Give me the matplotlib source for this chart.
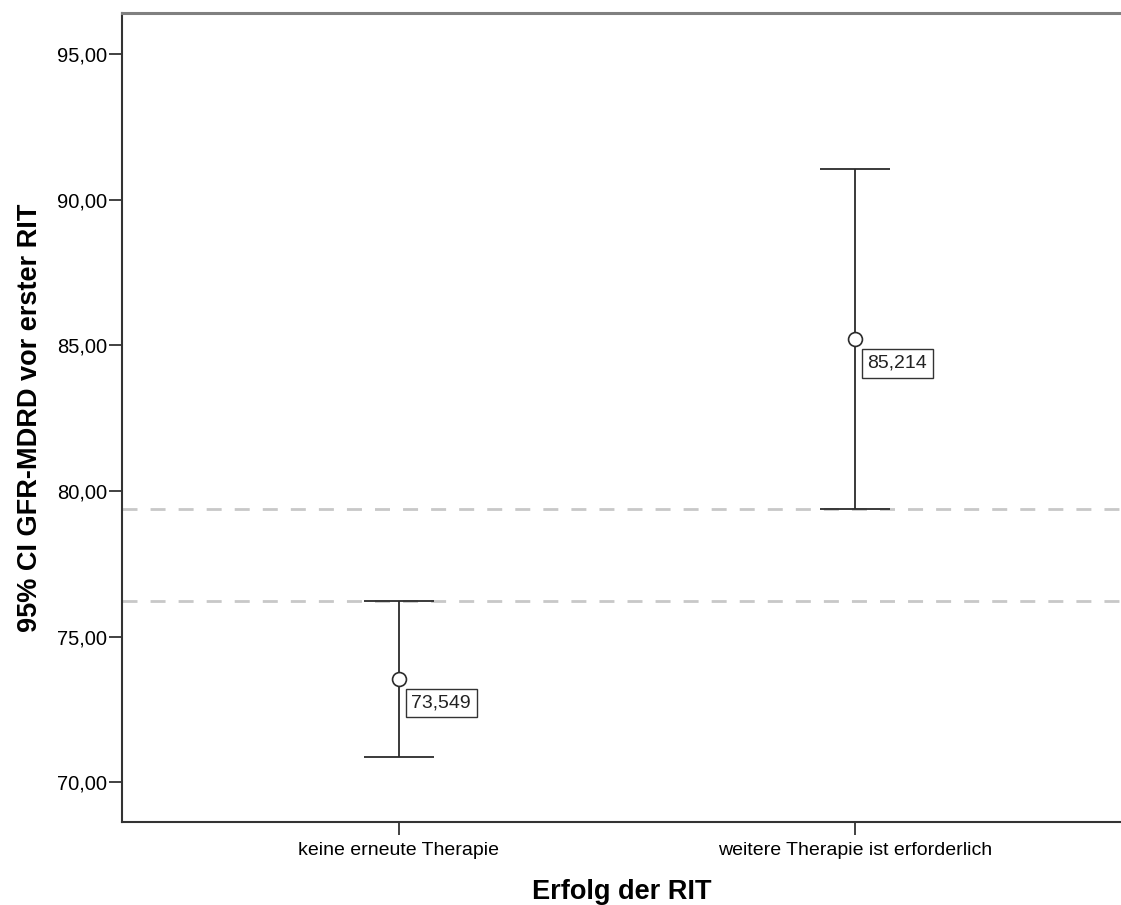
import matplotlib
matplotlib.use("Agg")
import matplotlib.pyplot as plt

plt.rcParams["font.family"] = ["Liberation Sans", "DejaVu Sans"]

categories = ["keine erneute Therapie", "weitere Therapie ist erforderlich"]
means = [73.549, 85.214]
ci_low = [70.86, 79.37]
ci_high = [76.22, 91.05]
mean_labels = ["73,549", "85,214"]
ref_lines = [79.37, 76.22]
y_ticks = [70, 75, 80, 85, 90, 95]
y_tick_labels = ["70,00", "75,00", "80,00", "85,00", "90,00", "95,00"]

fig = plt.figure(figsize=(11.21, 9.05), dpi=100)
ax = fig.add_axes([0.1088, 0.0917, 0.8912, 0.8939])

x = list(range(len(categories)))
for y in ref_lines:
    ax.axhline(y, color="#c8c8c8", linewidth=2, linestyle=(0, (5.4, 4.7)), zorder=1)

lower = [m - lo for m, lo in zip(means, ci_low)]
upper = [hi - m for m, hi in zip(means, ci_high)]
ax.errorbar(x, means, yerr=[lower, upper], fmt="none", ecolor="#2b2b2b",
            elinewidth=1.3, capsize=25, capthick=1.3, zorder=2)
ax.plot(x, means, "o", markersize=10, markerfacecolor="white",
        markeredgecolor="#2b2b2b", markeredgewidth=1.2, zorder=3)

for xi, m, lab in zip(x, means, mean_labels):
    ax.annotate(lab, (xi, m), xytext=(9, -17.5), textcoords="offset points",
                fontsize=14, ha="left", va="center", color="#222222",
                bbox=dict(boxstyle="square,pad=0.3", facecolor="white",
                          edgecolor="#333333", linewidth=1.0), zorder=4)

ax.set_xlim(-0.607, 1.583)
ax.set_ylim(68.63, 96.41)
ax.set_xticks(x)
ax.set_xticklabels(categories, fontsize=14)
ax.set_yticks(y_ticks)
ax.set_yticklabels(y_tick_labels, fontsize=14.5)
ax.tick_params(axis="both", length=9.5, width=1.3, color="#333333", pad=1.2)
ax.tick_params(axis="x", pad=5)

ax.spines["right"].set_visible(False)
ax.spines["left"].set_color("#333333")
ax.spines["left"].set_linewidth(1.5)
ax.spines["bottom"].set_color("#333333")
ax.spines["bottom"].set_linewidth(1.5)
ax.spines["top"].set_color("#808080")
ax.spines["top"].set_linewidth(2.2)

ax.set_xlabel("Erfolg der RIT", fontsize=19.5, fontweight="bold", labelpad=14)
ax.set_ylabel("95% CI GFR-MDRD vor erster RIT", fontsize=19.5, fontweight="bold",
              labelpad=10)

fig.savefig("out.png", dpi=100)
